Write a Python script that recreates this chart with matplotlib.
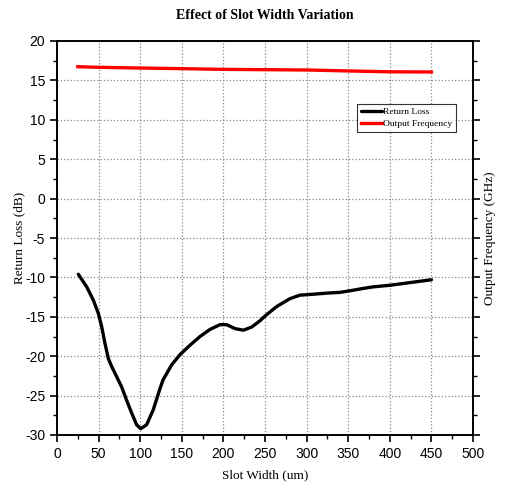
import matplotlib
matplotlib.use("Agg")
import matplotlib.pyplot as plt
from matplotlib.ticker import MultipleLocator

plt.rcParams['axes.unicode_minus'] = False

# Data
rl_x = [25.6, 35.7, 43.7, 49.8, 53.8, 57.7, 61.7, 65.7, 71.7, 77.7, 83.7, 89.7, 95.7,
        100.5, 107.7, 115.7, 123.8, 127.5, 137.8, 147.8, 159.9, 171.9, 183.9, 195.9,
        203.9, 214, 224, 234, 244, 250, 264, 280, 292, 300, 324, 340, 352, 368, 380,
        400, 425, 450]
rl_y = [-9.6, -11.2, -12.9, -14.6, -16.3, -18.4, -20.3, -21.3, -22.6, -23.9, -25.6,
        -27.2, -28.7, -29.2, -28.7, -26.8, -24.1, -23.0, -21.1, -19.8, -18.6, -17.5,
        -16.6, -16.0, -16.0, -16.5, -16.7, -16.3, -15.5, -14.9, -13.7, -12.7, -12.25,
        -12.2, -12.0, -11.9, -11.7, -11.4, -11.2, -11.0, -10.65, -10.3]
of_x = [25, 50, 100, 150, 200, 250, 300, 350, 400, 450]
of_y = [16.74, 16.66, 16.57, 16.49, 16.40, 16.36, 16.32, 16.20, 16.09, 16.07]

serif = ['Liberation Serif', 'DejaVu Serif']
sans = ['Liberation Sans', 'DejaVu Sans']

fig = plt.figure(figsize=(5.05, 4.95), dpi=100)
ax = fig.add_axes([57/505, 60/495, 416/505, 394/495])

ax.plot(rl_x, rl_y, color='black', lw=2.4, label='Return Loss', zorder=3,
        solid_joinstyle='round', solid_capstyle='round')
ax.plot(of_x, of_y, color='#ff0000', lw=2.4, label='Output Frequency', zorder=3)

ax.set_xlim(0, 500)
ax.set_ylim(-30, 20)
ax.xaxis.set_major_locator(MultipleLocator(50))
ax.xaxis.set_minor_locator(MultipleLocator(25))
ax.yaxis.set_major_locator(MultipleLocator(5))
ax.yaxis.set_minor_locator(MultipleLocator(2.5))
ax.tick_params(which='major', direction='out', length=5, width=1.2, labelsize=10)
ax.tick_params(which='minor', direction='out', length=3, width=1.0)
for lab in ax.get_xticklabels() + ax.get_yticklabels():
    lab.set_family(sans)
ax.grid(True, which='major', color='#888888', linestyle=':', linewidth=0.9)
for s in ax.spines.values():
    s.set_linewidth(1.2)

ax2 = ax.twinx()
ax2.set_ylim(-30, 20)
ax2.yaxis.set_major_locator(MultipleLocator(5))
ax2.yaxis.set_minor_locator(MultipleLocator(2.5))
ax2.tick_params(which='major', direction='out', length=5, width=1.2, labelright=False)
ax2.tick_params(which='minor', direction='out', length=3, width=1.0)
ax2.set_ylabel('Output Frequency (GHz)', family=serif, fontsize=9.5)
ax2.yaxis.set_label_coords((490 - 57) / 416, 0.5)
for s in ax2.spines.values():
    s.set_linewidth(1.2)

ax.set_ylabel('Return Loss (dB)', family=serif, fontsize=9.5)
ax.yaxis.set_label_coords((19 - 57) / 416, 0.5)
ax.set_xlabel('Slot Width (um)', family=serif, fontsize=9.5)
ax.xaxis.set_label_coords(0.5, (435 - 475) / 394)
ax.xaxis.label.set_va('center')
ax.yaxis.label.set_va('center')
ax2.yaxis.label.set_va('center')
ax.set_title('Effect of Slot Width Variation', family=serif, fontsize=10,
             fontweight='bold', pad=16)

leg = ax.legend(loc='upper left', prop={'family': serif, 'size': 6.8},
                frameon=True, fancybox=False, edgecolor='black',
                handlelength=2.2, handletextpad=0.2, borderpad=0.4,
                labelspacing=0.3, borderaxespad=0,
                bbox_to_anchor=(300/416, 1 - (104-41)/394))
leg.get_frame().set_linewidth(0.8)

fig.savefig('out.png', dpi=100)
